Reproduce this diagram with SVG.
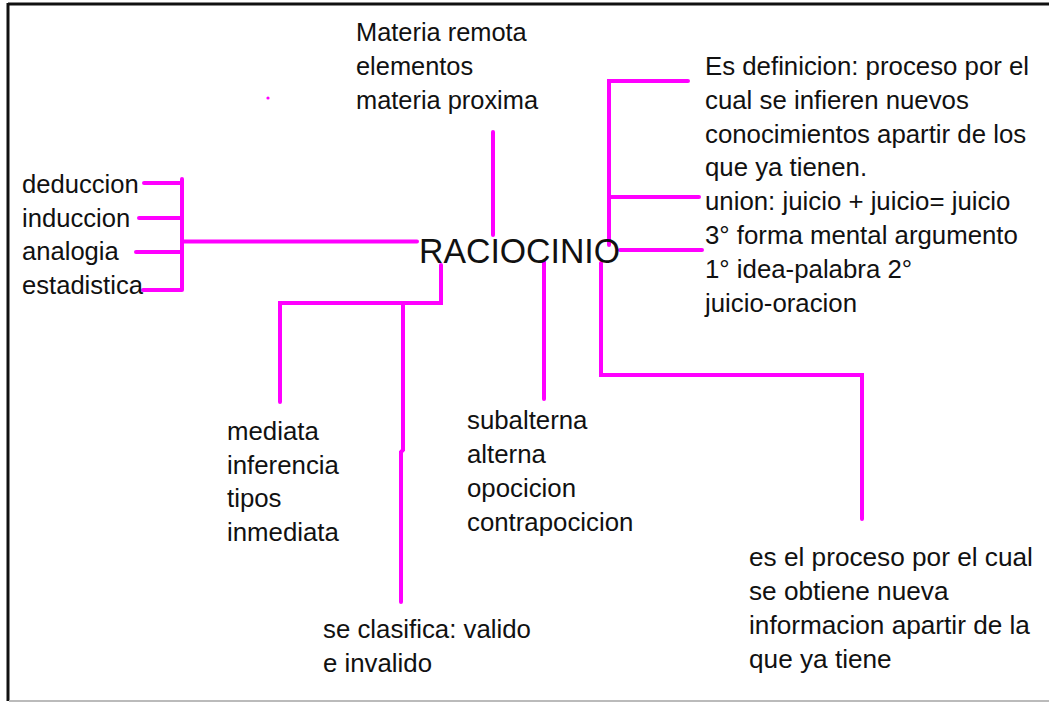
<svg xmlns="http://www.w3.org/2000/svg" width="1049" height="702" viewBox="0 0 1049 702">
<style>
.t{font-family:"Liberation Sans",Arial,sans-serif;font-size:25.8px;fill:#111}
.big{font-size:35px}
.c{fill:none;stroke:#ff00ff;stroke-width:4;stroke-linecap:round;stroke-linejoin:miter}
</style>
<rect x="0" y="0" width="1049" height="702" fill="#fff"/>
<g id="frame">
<line x1="8" y1="4" x2="1049" y2="4" stroke="#111" stroke-width="3"/>
<line x1="8" y1="3" x2="8" y2="701" stroke="#111" stroke-width="3"/>
<line x1="9" y1="701" x2="1049" y2="701" stroke="#bbb" stroke-width="2"/>
<circle cx="268" cy="98" r="1.6" fill="#ff00ff"/>
</g>
<g id="connectors">
<path class="c" d="M144,183 H182 M139,218 H182 M136,252 H182 M143,290 H182 M182,179 V290 M182,241.5 H417"/>
<path class="c" d="M493,132 V235"/>
<path class="c" d="M609,245 V81 H688 M609,197 H699 M620,250 H702"/>
<path class="c" d="M441,265 V303 H280 V402 M403,303 V450 L401,452 V602"/>
<path class="c" d="M544,262 V399"/>
<path class="c" d="M601,263 V375 H862 V519"/>
</g>
<g id="raciocinio"><text class="t big" x="419" y="263" textLength="201" lengthAdjust="spacingAndGlyphs">RACIOCINIO</text></g>
<g id="materia" style="font-size:25.4px">
<text class="t" x="356" y="41" style="font-size:25.4px">Materia remota</text>
<text class="t" x="356" y="75" style="font-size:25.4px">elementos</text>
<text class="t" x="356" y="109" style="font-size:25.4px">materia proxima</text>
</g>
<g id="metodos">
<text class="t" x="22" y="193" style="font-size:25.6px">deduccion</text>
<text class="t" x="22" y="227" style="font-size:25.6px">induccion</text>
<text class="t" x="22" y="260" style="font-size:25.6px">analogia</text>
<text class="t" x="22" y="294" style="font-size:25.6px">estadistica</text>
</g>
<g id="definicion">
<text class="t" x="705" y="75">Es definicion: proceso por el</text>
<text class="t" x="705" y="109">cual se infieren nuevos</text>
<text class="t" x="705" y="143">conocimientos apartir de los</text>
<text class="t" x="705" y="176">que ya tienen.</text>
<text class="t" x="705" y="210">union: juicio + juicio= juicio</text>
<text class="t" x="705" y="244">3° forma mental argumento</text>
<text class="t" x="705" y="278">1° idea-palabra 2°</text>
<text class="t" x="705" y="312">juicio-oracion</text>
</g>
<g id="tipos">
<text class="t" x="227" y="440">mediata</text>
<text class="t" x="227" y="474">inferencia</text>
<text class="t" x="227" y="507">tipos</text>
<text class="t" x="227" y="541">inmediata</text>
</g>
<g id="clasifica">
<text class="t" x="323" y="638">se clasifica: valido</text>
<text class="t" x="323" y="672">e invalido</text>
</g>
<g id="oposicion">
<text class="t" x="467" y="429">subalterna</text>
<text class="t" x="467" y="463">alterna</text>
<text class="t" x="467" y="497">opocicion</text>
<text class="t" x="467" y="531">contrapocicion</text>
</g>
<g id="proceso">
<text class="t" x="749" y="566" style="font-size:26.2px">es el proceso por el cual</text>
<text class="t" x="749" y="600" style="font-size:26.2px">se obtiene nueva</text>
<text class="t" x="749" y="634" style="font-size:26.2px">informacion apartir de la</text>
<text class="t" x="749" y="668" style="font-size:26.2px">que ya tiene</text>
</g>
</svg>
